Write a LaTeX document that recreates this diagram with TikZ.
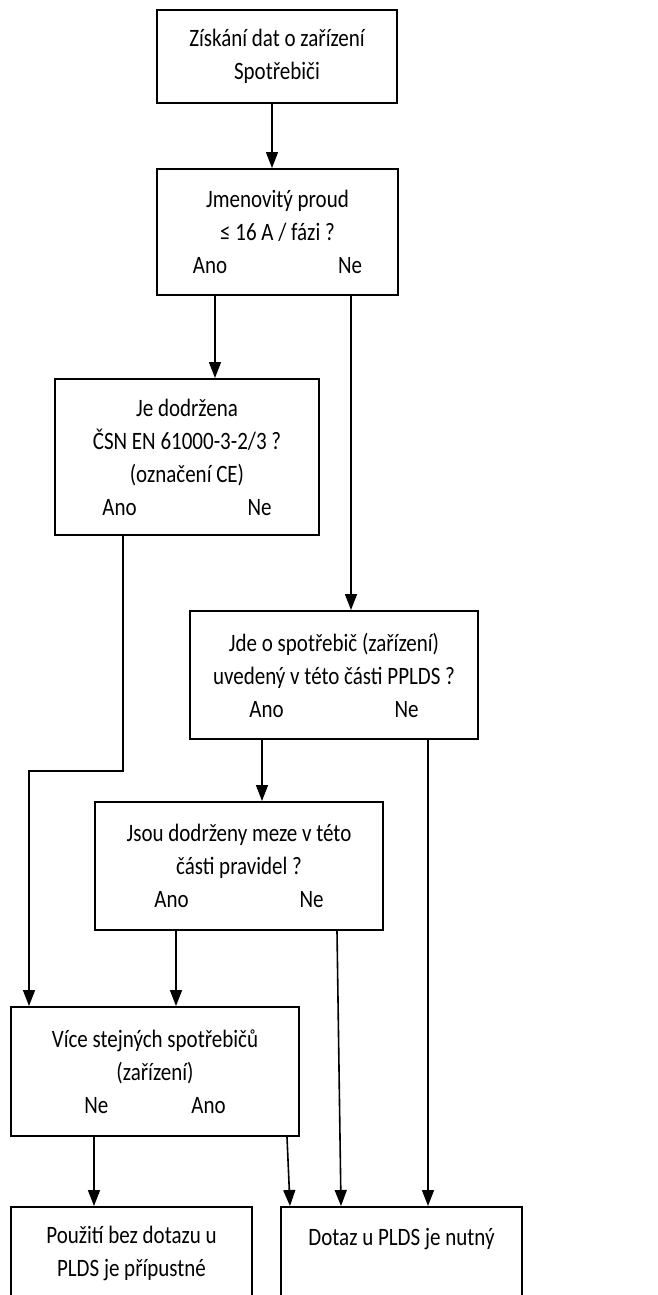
\documentclass[tikz,border=0pt]{standalone}
\usepackage{fontspec}
\setmainfont{Carlito}[FakeStretch=0.84]
\usepackage{tikz}
\usetikzlibrary{shapes,arrows.meta}

\begin{document}
\begin{tikzpicture}[x=0.5pt,y=-0.5pt,
  box/.style={draw, rectangle, line width=1pt, align=center, inner sep=0pt,
    font=\fontsize{12.5}{16.5}\selectfont},
  arr/.style={line width=0.8pt, -{Triangle[length=8pt,width=6pt]}}]
\useasboundingbox (0,0) rectangle (658,1295);
\clip (0,0) rectangle (658,1295);

\node[box, minimum width=120pt, minimum height=46.5pt] (start) at (277,56.5) {Získání dat o zařízení\\Spotřebiči};
\node[box, minimum width=120.5pt, minimum height=63pt] (q1) at (277.5,232) {Jmenovitý proud\\≤ 16 A / fázi ?\\Ano\hspace{55.5pt}Ne};
\node[box, minimum width=132pt, minimum height=78pt] (q2) at (187,457) {Je dodržena\\ČSN EN 61000-3-2/3 ?\\(označení CE)\\Ano\hspace{55.5pt}Ne};
\node[box, minimum width=144pt, minimum height=64pt] (q3) at (334,675) {Jde o spotřebič (zařízení)\\uvedený v této části PPLDS ?\\Ano\hspace{55.5pt}Ne};
\node[box, minimum width=144pt, minimum height=64pt] (q4) at (239,866) {Jsou dodrženy meze v této\\části pravidel ?\\Ano\hspace{55.5pt}Ne};
\node[box, minimum width=144pt, minimum height=64.5pt] (q5) at (155,1071.5) {Více stejných spotřebičů\\(zařízení)\\Ne\hspace{41.5pt}Ano};
\node[box, minimum width=120.5pt, minimum height=46.5pt] (ok) at (131.5,1253.5) {Použití bez dotazu u\\PLDS je přípustné};
\node[box, minimum width=120.5pt, minimum height=46.5pt] (ask) at (401.5,1253.5) {Dotaz u PLDS je nutný\\~};

\coordinate (turn) at (29,771);

\draw[arr] ([xshift=-2.5pt]start.south) -- ([xshift=-2.5pt]start.south |- q1.north);
\draw[arr] ([xshift=-31.25pt]q1.south) -- ([xshift=-31.25pt]q1.south |- q2.north);
\draw[arr] ([xshift=36.75pt]q1.south) -- ([xshift=36.75pt]q1.south |- q3.north);
\draw[arr] ([xshift=-32pt]q2.south) |- (turn) -- (turn |- q5.north);
\draw[arr] ([xshift=-36pt]q3.south) -- ([xshift=-36pt]q3.south |- q4.north);
\draw[arr] ([xshift=47pt]q3.south) -- ([xshift=47pt]q3.south |- ask.north);
\draw[arr] ([xshift=-31.5pt]q4.south) -- ([xshift=-31.5pt]q4.south |- q5.north);
\draw[arr] ([xshift=49pt]q4.south) -- ([xshift=-30.25pt]ask.north);
\draw[arr] ([xshift=-30.5pt]q5.south) -- ([xshift=-30.5pt]q5.south |- ok.north);
\draw[arr] ([xshift=66pt]q5.south) -- ([xshift=-55.75pt]ask.north);
\end{tikzpicture}
\end{document}
